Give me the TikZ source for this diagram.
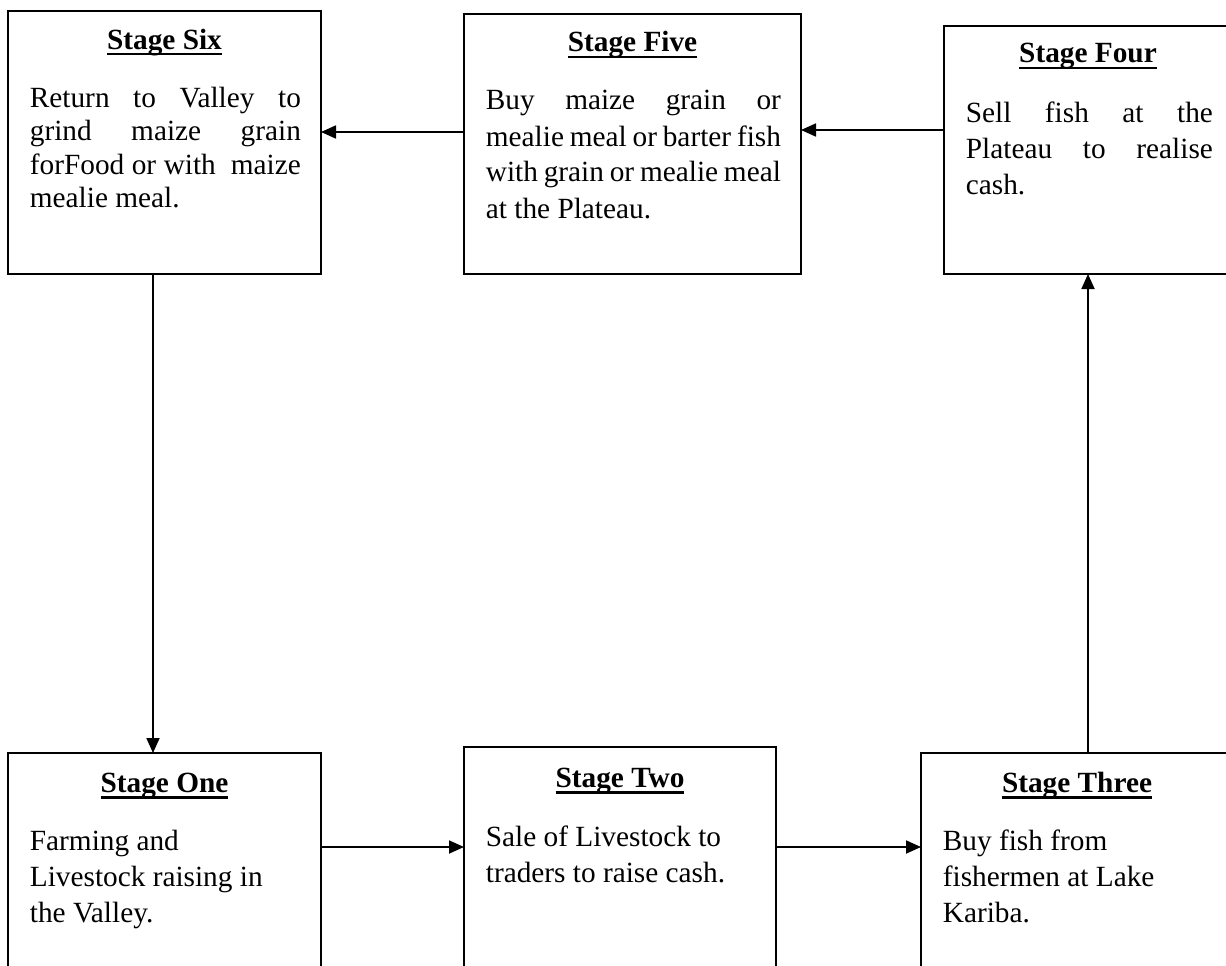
\documentclass[tikz,border=0pt]{standalone}
\usepackage{fontspec}
\setmainfont{Liberation Serif}
\usetikzlibrary{arrows.meta}
\newcommand{\stagetitle}[1]{\setbox0=\hbox{\bfseries #1}\rlap{\rule[-6.5pt]{\wd0}{2.4pt}}\box0}

\begin{document}
\begin{tikzpicture}[
  x=1pt, y=-1pt,
  line width=1.8pt,
  stage/.style={draw, rectangle, anchor=north west, inner sep=0pt, outer sep=0pt},
  title/.style={anchor=base, inner sep=0pt, font=\fontsize{29.3}{35}\selectfont},
  body/.style={anchor=base west, inner sep=0pt, align=justify, font=\fontsize{29.3}{36}\selectfont},
  link/.style={-{Triangle[length=15pt,width=13pt]}}]
\useasboundingbox (0,0) rectangle (1226,966);
\clip (0,0) rectangle (1226,966);
%% top row
\node [stage, minimum width=313pt, minimum height=263pt] (six) at (8,11) {};
\node [stage, minimum width=337pt, minimum height=260pt] (five) at (464,14) {};
\node [stage, minimum width=288pt, minimum height=248pt] (four) at (944,26) {};
%% bottom row
\node [stage, minimum width=313pt, minimum height=260pt] (one) at (8,753) {};
\node [stage, minimum width=312pt, minimum height=260pt] (two) at (464,747) {};
\node [stage, minimum width=312pt, minimum height=260pt] (three) at (921,753) {};

\node [title] (six-t) at ([yshift=-38pt]six.north) {\stagetitle{Stage Six}};
\node [title] (five-t) at ([yshift=-38pt]five.north) {\stagetitle{Stage Five}};
\node [title] (four-t) at ([yshift=-37pt]four.north) {\stagetitle{Stage Four}};
\node [title] (one-t) at ([yshift=-39pt]one.north) {\stagetitle{Stage One}};
\node [title] (two-t) at ([yshift=-40pt]two.north) {\stagetitle{Stage Two}};
\node [title] (three-t) at ([yshift=-39pt]three.north) {\stagetitle{Stage Three}};

\node [body, text width=271pt, font=\fontsize{29.3}{33.5}\selectfont] (six-b)
  at ([shift={(21pt,-96pt)}]six.north west)
  {Return to Valley to\linebreak grind maize grain\linebreak forFood or with\ \ maize\linebreak mealie meal.};
\node [body, text width=295pt] (five-b) at ([shift={(21pt,-96pt)}]five.north west)
  {Buy maize grain or\linebreak mealie meal or barter fish\linebreak with grain or mealie meal\linebreak at the Plateau.};
\node [body, text width=247pt] (four-b) at ([shift={(21pt,-96pt)}]four.north west)
  {Sell fish at the\linebreak Plateau to realise\linebreak cash.};
\node [body, text width=271pt, align=flush left] (one-b) at ([shift={(21pt,-97pt)}]one.north west)
  {Farming and\\Livestock raising in\\the Valley.};
\node [body, text width=271pt, align=flush left] (two-b) at ([shift={(21pt,-99pt)}]two.north west)
  {Sale of Livestock to\\traders to raise cash.};
\node [body, text width=271pt, align=flush left] (three-b) at ([shift={(21pt,-97pt)}]three.north west)
  {Buy fish from\\fishermen at Lake\\Kariba.};

\draw [link] ([yshift=12pt]five.west) -- ([yshift=12pt]five.west -| six.east);
\draw [link] ([yshift=20pt]four.west) -- ([yshift=20pt]four.west -| five.east);
\draw [link] ([xshift=-11.5pt]six.south) -- ([xshift=-11.5pt]six.south |- one.north);
\draw [link] ([yshift=-94pt]one.north east) -- ([yshift=-94pt]one.north east -| two.west);
\draw [link] ([yshift=-94pt]one.north east -| two.east) -- ([yshift=-94pt]one.north east -| three.west);
\draw [link] (three.north -| four.south) -- (four.south);
\end{tikzpicture}
\end{document}
